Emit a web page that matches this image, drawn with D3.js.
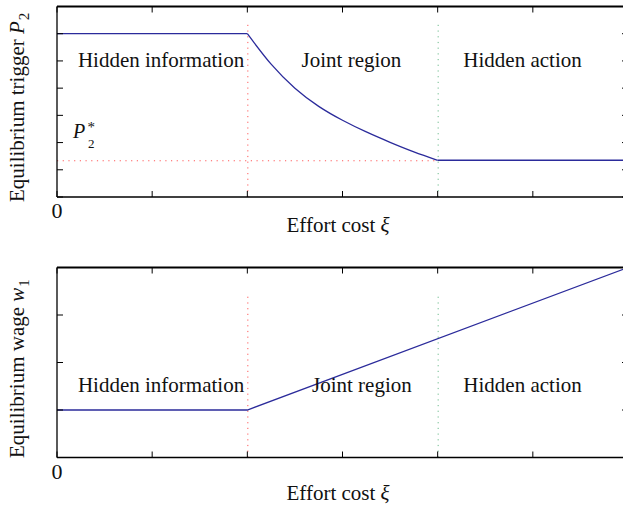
<!DOCTYPE html>
<html>
<head>
<meta charset="utf-8">
<script src="https://cdn.jsdelivr.net/npm/d3@7"></script>
<style>
  html, body { margin: 0; padding: 0; background: #fff; }
  svg { display: block; }
  text { font-family: "Liberation Serif", "Times New Roman", serif; fill: #111; }
</style>
</head>
<body>
<svg id="chart" width="623" height="509"></svg>
<script>
// ---- data ----
const xTicks = [0, 1, 2, 3, 4, 5, 6];
const xTickLabels = ["0", "", "", "", "", "", ""];
const topYTicks = [0, 1, 2, 3, 4, 5, 6, 7];
const botYTicks = [0, 1, 2, 3, 4];

// top panel: equilibrium trigger P2 vs effort cost
const flatLeftXi = [0, 2];
const flatLeftP2 = [6.0, 6.0];
const curveXi = [2.0, 2.25, 2.5, 2.75, 3.0, 3.25, 3.5, 3.75, 4.0];
const curveP2 = [6.0, 4.88, 4.0, 3.33, 2.82, 2.39, 2.01, 1.66, 1.35];
const flatRightXi = [4, 6];
const flatRightP2 = [1.35, 1.35];
const p2Star = 1.35;
const p2StarXi = [0, 4];

// bottom panel: equilibrium wage w1
const wageXi = [0, 2, 6];
const wageW1 = [1.0, 1.0, 4.0];

// region boundaries
const boundaries = [2, 4];
const topBoundaryMax = 6.34;
const botBoundaryMax = 3.42;

const regionNames = ["Hidden information", "Joint region", "Hidden action"];
const topRegionXi = [0.22, 2.57, 4.27];
const botRegionXi = [0.22, 2.68, 4.27];

// ---- layout ----
const svg = d3.select("#chart");
const x = d3.scaleLinear().domain([0, 6]).range([57, 628]);
const yTop = d3.scaleLinear().domain([0, 7]).range([197, 6.5]);
const yBot = d3.scaleLinear().domain([0, 4]).range([457.5, 267.5]);

const blue = "#2b2b9b";
const red = "#ff5a5a";
const green = "#6cbb8c";
const fontSize = 21;

function panel(y, yTicks, opts) {
  const g = svg.append("g");
  const [y0, y1] = y.range();
  const xl = x.range()[0], xr = x.range()[1];

  // region boundary lines
  boundaries.forEach((b, i) => {
    g.append("line")
      .attr("x1", x(b) + 0.5).attr("x2", x(b) + 0.5)
      .attr("y1", y(0)).attr("y2", y(opts.boundaryMax))
      .attr("stroke", i === 0 ? red : green)
      .attr("stroke-width", 1)
      .attr("stroke-dasharray", "1.2,4.5");
  });

  opts.extra(g);

  // ticks (inward), bottom & top
  const tlen = 6;
  xTicks.forEach(t => {
    g.append("line").attr("x1", x(t)).attr("x2", x(t))
      .attr("y1", y0).attr("y2", y0 - tlen).attr("stroke", "#000").attr("stroke-width", 1);
    g.append("line").attr("x1", x(t)).attr("x2", x(t))
      .attr("y1", y1).attr("y2", y1 + tlen).attr("stroke", "#000").attr("stroke-width", 1);
  });
  yTicks.forEach(t => {
    g.append("line").attr("x1", xl).attr("x2", xl + tlen)
      .attr("y1", y(t)).attr("y2", y(t)).attr("stroke", "#000").attr("stroke-width", 1);
    g.append("line").attr("x1", xr).attr("x2", xr - tlen)
      .attr("y1", y(t)).attr("y2", y(t)).attr("stroke", "#000").attr("stroke-width", 1);
  });

  // frame
  g.append("line").attr("x1", xl).attr("x2", xr).attr("y1", y1).attr("y2", y1)
    .attr("stroke", "#000").attr("stroke-width", 2);
  g.append("line").attr("x1", xl).attr("x2", xr).attr("y1", y0).attr("y2", y0)
    .attr("stroke", "#000").attr("stroke-width", 1.3);
  g.append("line").attr("x1", xl).attr("x2", xl).attr("y1", y0).attr("y2", y1)
    .attr("stroke", "#000").attr("stroke-width", 1.3);
  g.append("line").attr("x1", xr).attr("x2", xr).attr("y1", y0).attr("y2", y1)
    .attr("stroke", "#000").attr("stroke-width", 1.3);

  // tick labels
  xTicks.forEach((t, i) => {
    if (!xTickLabels[i]) return;
    g.append("text").attr("x", x(t)).attr("y", y0 + 21)
      .attr("text-anchor", "middle").attr("font-size", 22).text(xTickLabels[i]);
  });

  // region labels
  regionNames.forEach((name, i) => {
    g.append("text").attr("x", x(opts.regionXi[i])).attr("y", opts.regionY)
      .attr("font-size", fontSize).text(name);
  });

  // x label
  const xlab = g.append("text").attr("x", 286.5).attr("y", opts.xLabelY).attr("font-size", fontSize);
  xlab.append("tspan").text("Effort cost ");
  xlab.append("tspan").attr("font-style", "italic").text("ξ");

  // y label
  const ylab = g.append("text")
    .attr("transform", `translate(24,${opts.yLabelBottom}) rotate(-90)`)
    .attr("font-size", fontSize);
  ylab.append("tspan").text(opts.yLabelMain);
  ylab.append("tspan").attr("font-style", "italic").text(opts.yLabelVar);
  ylab.append("tspan").attr("font-size", 15).attr("dy", 5).attr("dx", 1).text(opts.yLabelSub);
}

// top panel
panel(yTop, topYTicks, {
  boundaryMax: topBoundaryMax,
  regionXi: topRegionXi,
  regionY: 67,
  xLabelY: 232,
  yLabelBottom: 202,
  yLabelMain: "Equilibrium trigger ",
  yLabelVar: "P",
  yLabelSub: "2",
  extra: g => {
    // P2* reference line
    g.append("line")
      .attr("x1", x(p2StarXi[0])).attr("x2", x(p2StarXi[1]))
      .attr("y1", yTop(p2Star) + 0.5).attr("y2", yTop(p2Star) + 0.5)
      .attr("stroke", red).attr("stroke-width", 1).attr("stroke-dasharray", "1.2,4.5");
    // P2* label as one text element
    const lab = g.append("text").attr("x", 73).attr("y", 137.5);
    lab.append("tspan").attr("font-size", 20).attr("font-style", "italic").text("P");
    lab.append("tspan").attr("font-size", 15).attr("x", 87.5).attr("dy", -6).text("*");
    lab.append("tspan").attr("font-size", 13).attr("x", 88).attr("dy", 16).text("2");

    const lineLin = d3.line().x(d => x(d[0])).y(d => yTop(d[1]));
    const lineCurve = d3.line().x(d => x(d[0])).y(d => yTop(d[1])).curve(d3.curveNatural);
    g.append("path").attr("d", lineLin(flatLeftXi.map((v, i) => [v, flatLeftP2[i]])))
      .attr("fill", "none").attr("stroke", blue).attr("stroke-width", 1.3);
    g.append("path").attr("d", lineCurve(curveXi.map((v, i) => [v, curveP2[i]])))
      .attr("fill", "none").attr("stroke", blue).attr("stroke-width", 1.3);
    g.append("path").attr("d", lineLin(flatRightXi.map((v, i) => [v, flatRightP2[i]])))
      .attr("fill", "none").attr("stroke", blue).attr("stroke-width", 1.3);
  }
});

// bottom panel
panel(yBot, botYTicks, {
  boundaryMax: botBoundaryMax,
  regionXi: botRegionXi,
  regionY: 392,
  xLabelY: 500,
  yLabelBottom: 458,
  yLabelMain: "Equilibrium wage ",
  yLabelVar: "w",
  yLabelSub: "1",
  extra: g => {
    const lineLin = d3.line().x(d => x(d[0])).y(d => yBot(d[1]));
    g.append("path").attr("d", lineLin(wageXi.map((v, i) => [v, wageW1[i]])))
      .attr("fill", "none").attr("stroke", blue).attr("stroke-width", 1.3);
  }
});
</script>
</body>
</html>
